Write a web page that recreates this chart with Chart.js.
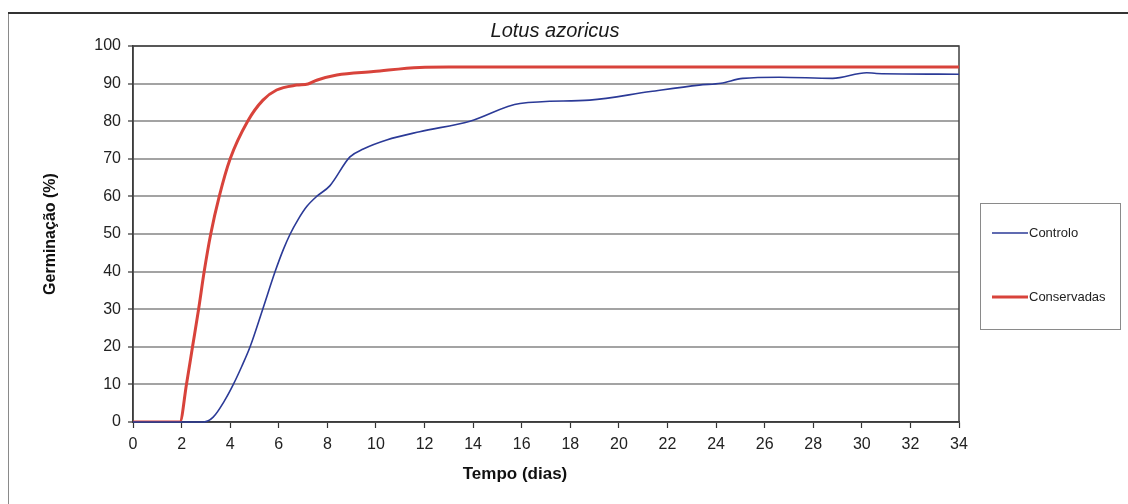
<!DOCTYPE html>
<html><head><meta charset="utf-8">
<script src="https://cdn.jsdelivr.net/npm/chart.js@4.4.1/dist/chart.umd.min.js"></script>
<style>html,body{margin:0;padding:0;background:#fff;}#wrap{width:1128px;height:504px;position:relative;}</style>
</head><body><div id="wrap"><canvas id="c" width="1128" height="504"></canvas></div>
<script>
const chartTitle = 'Lotus azoricus';
const xAxisTitle = 'Tempo (dias)';
const yAxisTitle = 'Germinação (%)';
const seriesNames = ['Controlo', 'Conservadas'];
const seriesColors = ['#2b3a97', '#d8433b'];
const xTickValues = [0,2,4,6,8,10,12,14,16,18,20,22,24,26,28,30,32,34];
const yTickValues = [0,10,20,30,40,50,60,70,80,90,100];

const controloDias = [0, 2.9, 3.3, 3.78, 4.13, 4.47, 4.82, 5.34, 5.85, 6.19, 6.47, 6.8, 7.15, 7.56, 8.1, 8.93, 9.48, 10.44, 11.8, 13.87, 15.93, 18.8, 21.3, 23.3, 24.2, 25.1, 26.6, 28.8, 30.2, 30.6, 34];
const controloGerm = [0, 0, 1.3, 5.8, 10, 14.7, 20, 30, 40, 45.9, 50, 53.9, 57.3, 60, 62.8, 70.5, 72.6, 75, 77.2, 80, 84.7, 85.6, 87.9, 89.6, 90.1, 91.4, 91.7, 91.4, 92.9, 92.7, 92.5];
const conservadasDias = [0, 1.93, 2.2, 2.45, 2.7, 2.93, 3.2, 3.55, 4.0, 4.72, 5.35, 5.91, 6.74, 7.2, 7.56, 8.39, 9.9, 11.8, 13, 34];
const conservadasGerm = [0, 0, 10, 20, 30, 40, 50, 60, 70, 80, 85.6, 88.3, 89.6, 89.9, 90.9, 92.3, 93.2, 94.3, 94.4, 94.4];

const toPoints = (xs, ys) => xs.map((x, i) => ({x: x, y: ys[i]}));
const FONT = "'Liberation Sans', Arial, sans-serif";

const framePlugin = {
  id: 'frame',
  beforeDraw(chart) {
    const ctx = chart.ctx;
    ctx.save();
    ctx.fillStyle = '#fff';
    ctx.fillRect(0, 0, chart.width, chart.height);
    ctx.strokeStyle = '#8a8a8a';
    ctx.lineWidth = 1;
    ctx.beginPath(); ctx.moveTo(8.5, 13); ctx.lineTo(8.5, chart.height); ctx.stroke();
    ctx.strokeStyle = '#333';
    ctx.lineWidth = 2;
    ctx.beginPath(); ctx.moveTo(8, 13); ctx.lineTo(chart.width, 13); ctx.stroke();
    ctx.restore();
  },
  beforeDatasetsDraw(chart) {
    const a = chart.chartArea, ctx = chart.ctx;
    ctx.save();
    ctx.strokeStyle = '#404040';
    ctx.lineWidth = 1.5;
    ctx.strokeRect(a.left, a.top, a.right - a.left, a.bottom - a.top);
    ctx.restore();
  },
  afterDraw(chart) {
    const ctx = chart.ctx;
    ctx.save();
    ctx.font = 'bold 17px ' + FONT;
    ctx.fillStyle = '#111';
    ctx.textAlign = 'center';
    ctx.textBaseline = 'middle';
    ctx.fillText(xAxisTitle, 515, 474);
    ctx.restore();
  }
};

const boxLegendPlugin = {
  id: 'boxLegend',
  afterDraw(chart) {
    const ctx = chart.ctx;
    ctx.save();
    ctx.strokeStyle = '#8a8a8a';
    ctx.lineWidth = 1;
    ctx.strokeRect(980.5, 203.5, 140, 126);
    ctx.font = '13px ' + FONT;
    ctx.textBaseline = 'middle';
    ctx.fillStyle = '#222';
    const ys = [233, 297];
    chart.data.datasets.forEach((ds, i) => {
      ctx.strokeStyle = ds.borderColor;
      ctx.lineWidth = ds.borderWidth;
      ctx.beginPath(); ctx.moveTo(992, ys[i]); ctx.lineTo(1028, ys[i]); ctx.stroke();
      ctx.fillText(ds.label, 1029, ys[i]);
    });
    ctx.restore();
  }
};

new Chart(document.getElementById('c'), {
  type: 'line',
  data: {
    datasets: [
      { label: seriesNames[0], data: toPoints(controloDias, controloGerm), borderColor: seriesColors[0], borderWidth: 1.6,
        pointRadius: 0, cubicInterpolationMode: 'monotone', clip: false, fill: false },
      { label: seriesNames[1], data: toPoints(conservadasDias, conservadasGerm), borderColor: seriesColors[1], borderWidth: 3,
        pointRadius: 0, cubicInterpolationMode: 'monotone', clip: 0, fill: false }
    ]
  },
  options: {
    responsive: false,
    devicePixelRatio: 1,
    animation: false,
    layout: { padding: { left: 0, right: 18, top: 14, bottom: 0 } },
    plugins: {
      legend: { display: false },
      tooltip: { enabled: false },
      title: { display: true, text: chartTitle, color: '#1a1a1a',
        font: { family: FONT, size: 20, style: 'italic', weight: 'normal' }, padding: { top: 5, bottom: 3 } }
    },
    scales: {
      x: {
        type: 'linear', min: 0, max: 34,
        afterBuildTicks: s => { s.ticks = xTickValues.map(v => ({ value: v })); },
        afterFit: s => { s.height = 82; },
        grid: { display: true, drawOnChartArea: false, tickLength: 6, tickColor: '#333', tickWidth: 1.2 },
        border: { display: true, color: '#333', width: 1.5 },
        ticks: { color: '#222', padding: 7, maxRotation: 0, autoSkip: false, font: { family: FONT, size: 16 } },
        title: { display: false, text: xAxisTitle }
      },
      y: {
        type: 'linear', min: 0, max: 100, position: 'left',
        afterBuildTicks: s => { s.ticks = yTickValues.map(v => ({ value: v })); },
        afterFit: s => { s.width = 133; },
        grid: { color: '#a3a3a3', lineWidth: 2, tickLength: 5, tickColor: '#333', tickWidth: 1.2 },
        border: { display: true, color: '#333', width: 1.5 },
        ticks: { color: '#222', padding: 7, font: { family: FONT, size: 16 } },
        title: { display: true, text: yAxisTitle, color: '#111', padding: { top: 41, bottom: 0 },
          font: { family: FONT, size: 16, weight: 'bold' } }
      },
      yRight: {
        type: 'linear', position: 'right', display: true,
        afterFit: s => { s.width = 151; },
        grid: { display: false, drawTicks: false },
        border: { display: false },
        ticks: { display: false }
      }
    }
  },
  plugins: [framePlugin, boxLegendPlugin]
});
</script></body></html>
